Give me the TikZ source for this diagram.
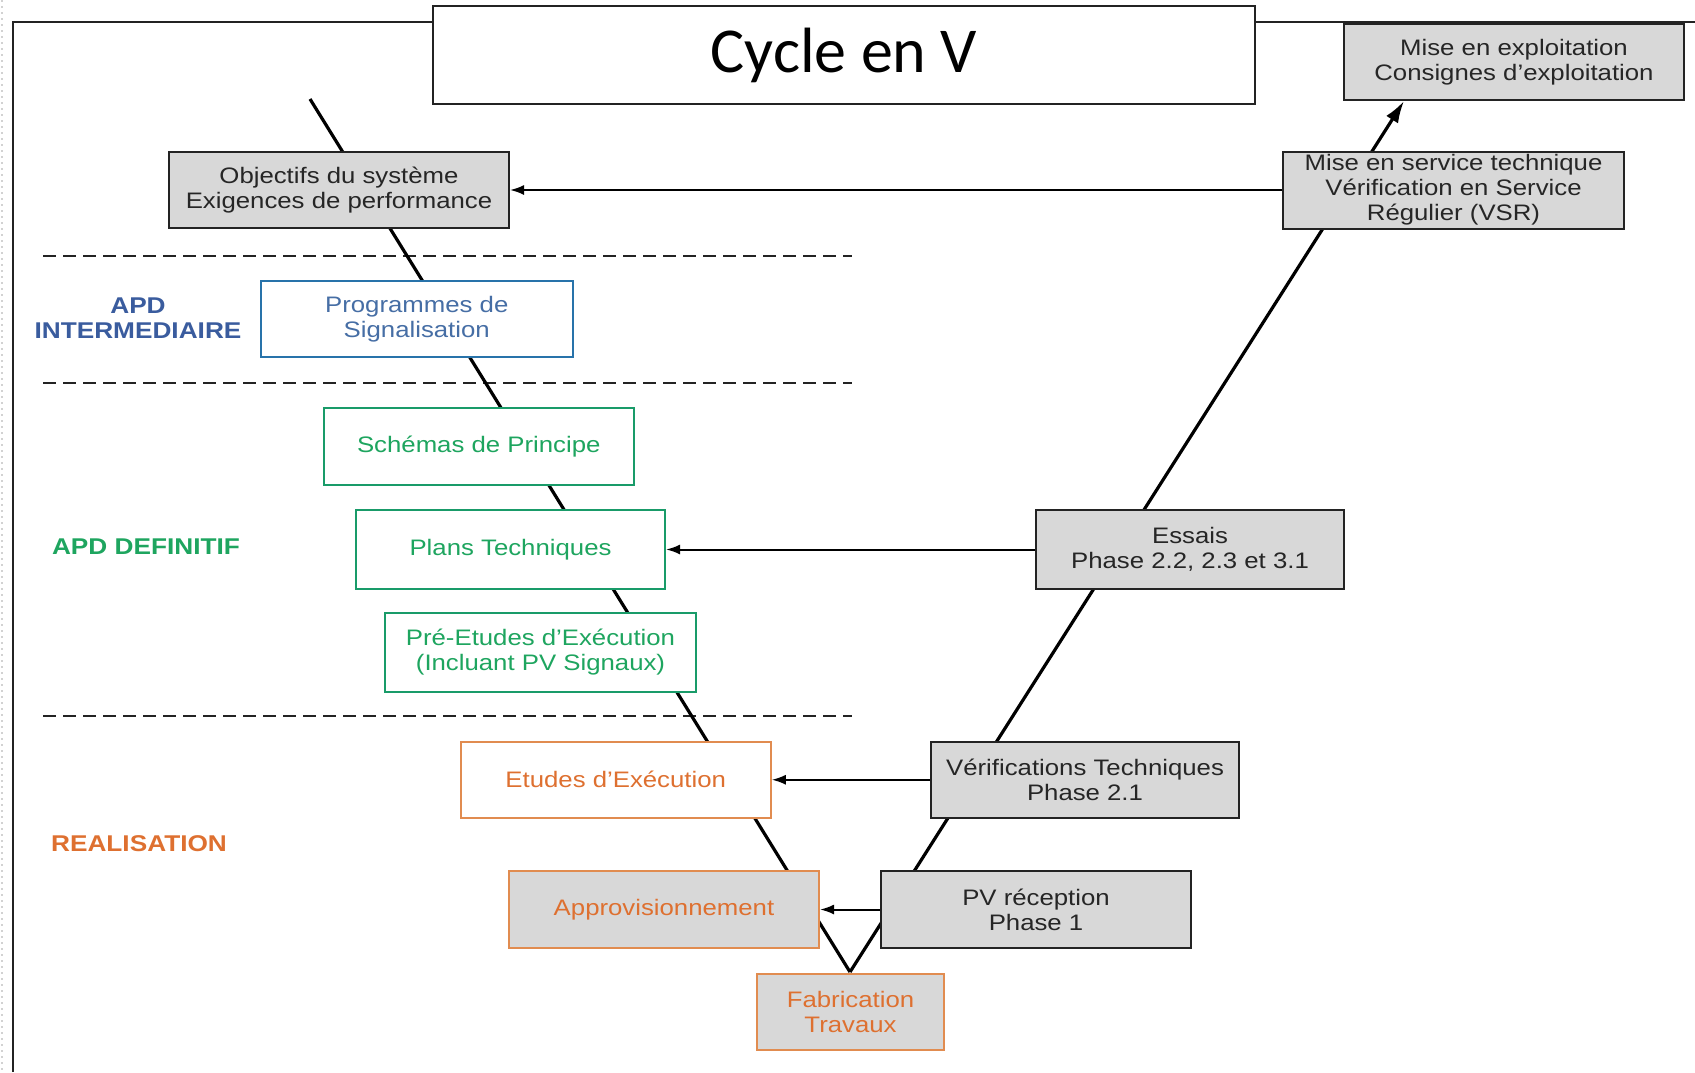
\documentclass[tikz,border=0pt]{standalone}
\usepackage{fontspec}
\setmainfont{Liberation Sans}[FakeStretch=1.15]
\newfontfamily\titlefont{Carlito}
\usetikzlibrary{arrows.meta}
\definecolor{boxgray}{RGB}{216,216,216}
\definecolor{bluetxt}{RGB}{58,92,158}
\definecolor{blueborder}{RGB}{40,115,170}
\definecolor{blueboxtxt}{RGB}{70,110,165}
\definecolor{greentxt}{RGB}{30,165,95}
\definecolor{greenborder}{RGB}{25,155,105}
\definecolor{orangetxt}{RGB}{222,112,48}
\definecolor{orangeborder}{RGB}{225,140,80}
\definecolor{darkline}{RGB}{35,35,35}
\tikzset{
  box/.style={draw=darkline, line width=1pt, align=center, inner sep=0pt,
    font=\fontsize{11.2}{12.5}\selectfont},
  graybox/.style={box, fill=boxgray, text=black!85},
  bluebox/.style={box, draw=blueborder, fill=white, text=blueboxtxt},
  greenbox/.style={box, draw=greenborder, fill=white, text=greentxt},
  orangebox/.style={box, draw=orangeborder, fill=white, text=orangetxt},
  orangegray/.style={box, draw=orangeborder, fill=boxgray, text=orangetxt},
  lbl/.style={align=center, inner sep=0pt, font=\bfseries\fontsize{11.4}{12.5}\selectfont},
  vline/.style={line width=1.6pt, black},
  harrow/.style={line width=1pt, black, -{Latex[length=7pt,width=5pt]}},
  dashline/.style={line width=1pt, darkline, dash pattern=on 6.5pt off 3.5pt},
}
\begin{document}
\begin{tikzpicture}[x=0.5pt,y=-0.5pt]
\useasboundingbox (0,0) rectangle (1695,1072);
% faint left border and frame
\draw[gray!35, dotted, line width=1pt] (2,0) -- (2,1072);
\coordinate (fbl) at (13,1072);
\coordinate (ftl) at (13,22);
\coordinate (ftr) at (1695,22);
\draw[line width=1pt, darkline] (fbl) -- (ftl) -- (ftr);
% dashed separators
\coordinate (d1a) at (43,256); \coordinate (d1b) at (852,256);
\coordinate (d2a) at (43,383); \coordinate (d2b) at (852,383);
\coordinate (d3a) at (43,716); \coordinate (d3b) at (852,716);
\draw[dashline] (d1a) -- (d1b);
\draw[dashline] (d2a) -- (d2b);
\draw[dashline] (d3a) -- (d3b);
% V line
\coordinate (vtop) at (310,99);
\coordinate (vbot) at (850,972);
\coordinate (vtip) at (1404,101);
\draw[vline] (vtop) -- (vbot);
\draw[vline, -{Latex[length=11pt,width=7pt]}] (vbot) -- (vtip);
% title
\node[draw=darkline, line width=1pt, fill=white, minimum width=411pt, minimum height=48.75pt,
  inner sep=0pt, font=\titlefont\fontsize{32}{36}\selectfont] (title) at (844,55) {\raisebox{-2pt}{Cycle en V}};
% boxes
\node[graybox, minimum width=170pt, minimum height=37.75pt] (mise) at (1514,61.75)
  {Mise en exploitation\\Consignes d’exploitation};
\node[graybox, minimum width=170pt, minimum height=38pt] (obj) at (339,190)
  {Objectifs du système\\Exigences de performance};
\node[graybox, minimum width=170.5pt, minimum height=38.5pt] (vsr) at (1453.5,190)
  {Mise en service technique\\Vérification en Service\\Régulier (VSR)};
\node[bluebox, minimum width=156pt, minimum height=38pt] (prog) at (416.75,319)
  {Programmes de\\Signalisation};
\node[greenbox, minimum width=155pt, minimum height=38.75pt] (schem) at (478.75,446.25)
  {Schémas de Principe};
\node[greenbox, minimum width=154.5pt, minimum height=39.5pt] (plans) at (510.5,549.5)
  {Plans Techniques};
\node[greenbox, minimum width=155.5pt, minimum height=39.5pt] (pre) at (540.5,652.5)
  {Pré-Etudes d'Exécution\\(Incluant PV Signaux)};
\node[orangebox, minimum width=155pt, minimum height=38pt] (etudes) at (615.75,779.75)
  {Etudes d'Exécution};
\node[orangegray, minimum width=155pt, minimum height=38.5pt] (approv) at (664,909.5)
  {Approvisionnement};
\node[orangegray, minimum width=93.5pt, minimum height=38pt] (fab) at (850.5,1012)
  {Fabrication\\Travaux};
\node[graybox, minimum width=154pt, minimum height=39.5pt] (essais) at (1190,549.5)
  {Essais\\Phase 2.2, 2.3 et 3.1};
\node[graybox, minimum width=154pt, minimum height=38pt] (verif) at (1085,779.75)
  {Vérifications Techniques\\Phase 2.1};
\node[graybox, minimum width=155pt, minimum height=38.5pt] (pv) at (1036,909.5)
  {PV réception\\Phase 1};
% phase labels
\node[lbl, text=bluetxt] (apdi) at (138,318.5) {APD\\INTERMEDIAIRE};
\node[lbl, text=greentxt] (apdd) at (146,547) {APD DEFINITIF};
\node[lbl, text=orangetxt] (real) at (139,844) {REALISATION};
% horizontal arrows
\draw[harrow] (vsr.west) -- (obj.east);
\draw[harrow] (essais.west) -- (plans.east);
\draw[harrow] (verif.west) -- (etudes.east);
\draw[harrow] (pv.west) -- (approv.east);
\end{tikzpicture}
\end{document}
